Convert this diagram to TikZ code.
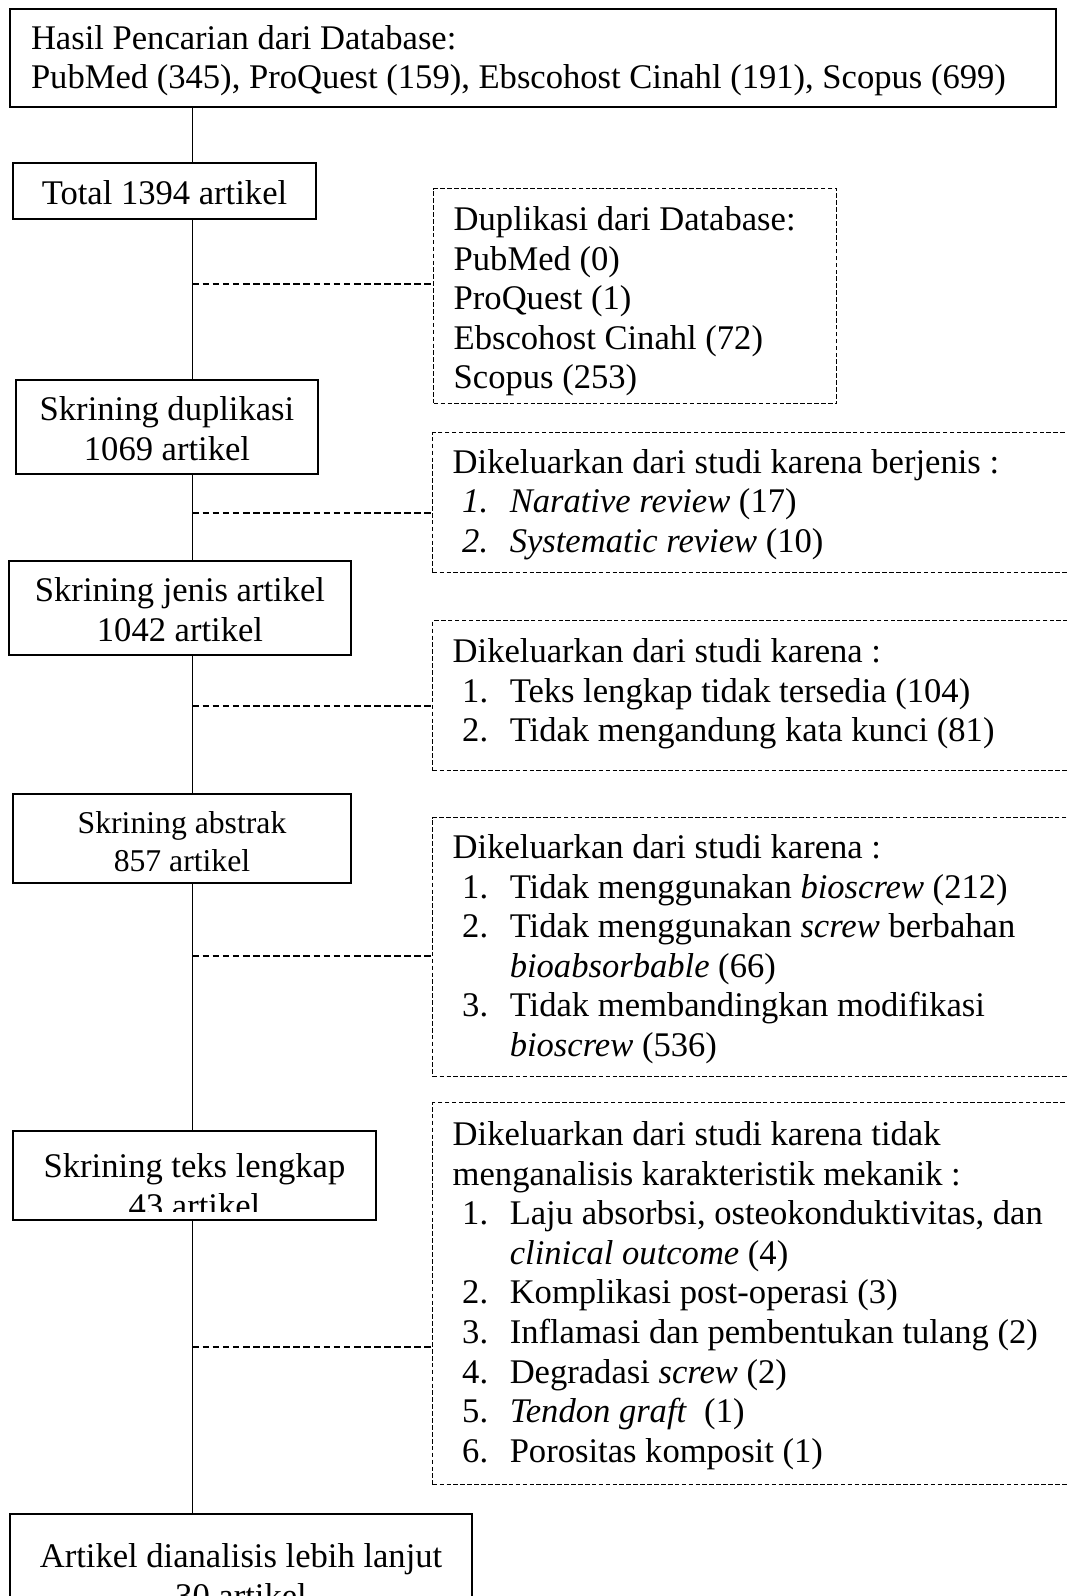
\documentclass[tikz,border=0pt]{standalone}
\usepackage{fontspec}
\setmainfont{Liberation Serif}
\newcommand{\px}{0.347pt}
\newcommand{\tstrut}{\rule{0pt}{9.6pt}}
\newcommand{\itm}[1]{\hspace*{3.3pt}\makebox[16.5pt][l]{#1}}
\newcommand{\cnt}{\hspace*{19.8pt}}
\tikzset{
  flowbox/.style={draw, line width=0.6pt, inner sep=0pt, align=center,
    font=\fontsize{12}{13.73}\selectfont},
  excl/.style={draw, line width=0.5pt, dash pattern=on 1.6pt off 0.8pt,
    anchor=north west, inner xsep=20*\px, inner ysep=0pt, align=flush left,
    font=\fontsize{12}{13.73}\selectfont},
  spine/.style={line width=0.6pt},
  conn/.style={line width=0.7pt, dash pattern=on 2.3pt off 1.2pt},
}
\begin{document}
\begin{tikzpicture}[x=\px, y=-\px]
  \useasboundingbox (0,0) rectangle (1066,1596);
  % garis utama
  \coordinate (sp) at (192.5,0);

  % kotak alur
  \node[flowbox, minimum width=1046*\px, minimum height=98*\px, text width=1004*\px, align=flush left] (hasil) at (533,58)
    {\rule{0pt}{10.3pt}Hasil Pencarian dari Database:\\ PubMed (345), ProQuest (159), Ebscohost Cinahl (191), Scopus (699)};
  \node[flowbox, minimum width=303*\px, minimum height=56*\px] (total) at (164.5,191) {\tstrut Total 1394 artikel};
  \node[flowbox, minimum width=302*\px, minimum height=94*\px] (dupl) at (167,427) {\tstrut Skrining duplikasi\\ 1069 artikel};
  \node[flowbox, minimum width=342*\px, minimum height=94*\px] (jenis) at (180,608) {\tstrut Skrining jenis artikel\\ 1042 artikel};
  \node[flowbox, minimum width=338*\px, minimum height=89*\px, font=\fontsize{11}{13.2}\selectfont] (abstrak) at (182,838.5)
    {\tstrut Skrining abstrak\\ 857 artikel};
  \node[flowbox, minimum width=363*\px, minimum height=89*\px] (teks) at (194.5,1175.5) {};
  \begin{scope}
    \clip (13,1131) rectangle (376,1211);
    \node[flowbox, draw=none, anchor=north] (tekslbl) at (194.5,1149.3) {\tstrut Skrining teks lengkap\\ 43 artikel};
  \end{scope}
  \node[flowbox, minimum width=462*\px, minimum height=120*\px] (akhir) at (241,1574)
    {\tstrut Artikel dianalisis lebih lanjut\\ 30 artikel};

  % kotak yang dikeluarkan
  \node[excl, minimum width=403*\px, minimum height=215*\px, text width=363*\px] (dup) at (433,188)
    {\rule{0pt}{12pt}Duplikasi dari Database:\\ PubMed (0)\\ ProQuest (1)\\ Ebscohost Cinahl (72)\\ Scopus (253)};
  \node[excl, minimum width=668*\px, minimum height=140*\px, text width=628*\px] (ex1) at (432,432)
    {\tstrut Dikeluarkan dari studi karena berjenis :\\
     \itm{\textit{1.}}\textit{Narative review} (17)\\
     \itm{\textit{2.}}\textit{Systematic review} (10)};
  \node[excl, minimum width=668*\px, minimum height=150*\px, text width=628*\px] (ex2) at (432,620)
    {\tstrut Dikeluarkan dari studi karena :\\
     \itm{1.}Teks lengkap tidak tersedia (104)\\
     \itm{2.}Tidak mengandung kata kunci (81)\rule[-5pt]{0pt}{5pt}};
  \node[excl, minimum width=668*\px, minimum height=259*\px, text width=628*\px] (ex3) at (432,817)
    {\tstrut Dikeluarkan dari studi karena :\\
     \itm{1.}Tidak menggunakan \textit{bioscrew} (212)\\
     \itm{2.}Tidak menggunakan \textit{screw} berbahan\\
     \cnt\textit{bioabsorbable} (66)\\
     \itm{3.}Tidak membandingkan modifikasi\\
     \cnt\textit{bioscrew} (536)};
  \node[excl, minimum width=668*\px, minimum height=382*\px, text width=628*\px] (ex4) at (432,1102)
    {\tstrut Dikeluarkan dari studi karena tidak\\
     menganalisis karakteristik mekanik :\\
     \itm{1.}Laju absorbsi, osteokonduktivitas, dan\\
     \cnt\textit{clinical outcome} (4)\\
     \itm{2.}Komplikasi post-operasi (3)\\
     \itm{3.}Inflamasi dan pembentukan tulang (2)\\
     \itm{4.}Degradasi \textit{screw} (2)\\
     \itm{5.}\textit{Tendon graft}~ (1)\\
     \itm{6.}Porositas komposit (1)};

  % garis vertikal
  \foreach \a/\b in {hasil/total, total/dupl, dupl/jenis, jenis/abstrak, abstrak/teks, teks/akhir}
    \draw[spine] (\a.south -| sp) -- (\b.north -| sp);

  % garis putus-putus
  \foreach \yy/\b [count=\i] in {284/dup, 513/ex1, 706/ex2, 956/ex3, 1347/ex4} {
    \coordinate (c\i) at (192.5,\yy);
    \draw[conn] (c\i) -- (c\i -| \b.west);
  }
\end{tikzpicture}
\end{document}
